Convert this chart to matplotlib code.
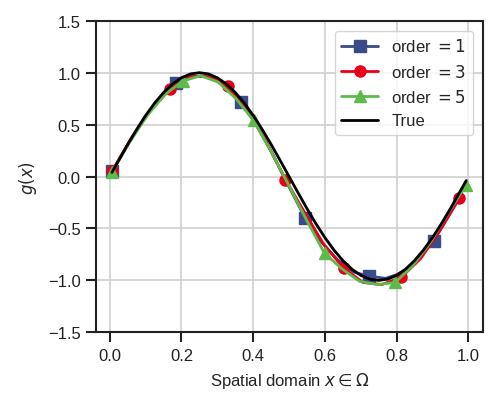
import matplotlib
matplotlib.use("Agg")
import matplotlib.pyplot as plt
import seaborn as sns

sns.set_style("ticks")
plt.rcParams['font.family'] = ['Liberation Sans', 'DejaVu Sans']
plt.rcParams['mathtext.fontset'] = 'dejavusans'

# ---- data ----
x1 = [0.006, 0.051, 0.096, 0.141, 0.185, 0.230, 0.275, 0.320, 0.365, 0.410, 0.455,
      0.500, 0.545, 0.590, 0.635, 0.680, 0.724, 0.769, 0.814, 0.859, 0.903, 0.948, 0.994]
y1 = [0.05, 0.31, 0.56, 0.76, 0.90, 0.97, 0.96, 0.88, 0.72, 0.49, 0.21,
      -0.10, -0.40, -0.63, -0.80, -0.92, -0.96, -0.98, -0.93, -0.80, -0.62, -0.36, -0.07]

x3 = [0.006, 0.060, 0.114, 0.168, 0.221, 0.275, 0.329, 0.383, 0.437, 0.490,
      0.544, 0.598, 0.652, 0.706, 0.759, 0.813, 0.867, 0.921, 0.975]
y3 = [0.05, 0.37, 0.64, 0.84, 0.96, 0.97, 0.87, 0.64, 0.33, -0.03,
      -0.35, -0.66, -0.88, -1.02, -1.04, -0.97, -0.79, -0.52, -0.21]

x5 = [0.006, 0.055, 0.105, 0.154, 0.204, 0.253, 0.302, 0.352, 0.401, 0.450, 0.500,
      0.549, 0.599, 0.648, 0.697, 0.747, 0.796, 0.845, 0.895, 0.944, 0.994]
y5 = [0.04, 0.33, 0.59, 0.79, 0.92, 0.97, 0.91, 0.75, 0.54, 0.24, -0.09,
      -0.42, -0.74, -0.89, -1.01, -1.04, -1.02, -0.86, -0.63, -0.35, -0.08]

xt = [0.006, 0.025, 0.05, 0.075, 0.1, 0.125, 0.15, 0.175, 0.2, 0.225, 0.25, 0.275, 0.3,
      0.325, 0.35, 0.375, 0.4, 0.425, 0.45, 0.475, 0.5, 0.525, 0.55, 0.575, 0.6,
      0.625, 0.65, 0.675, 0.7, 0.725, 0.75, 0.775, 0.8, 0.825, 0.85, 0.875, 0.9,
      0.925, 0.95, 0.975, 0.994]
yt = [0.04, 0.156, 0.309, 0.454, 0.588, 0.707, 0.809, 0.891, 0.951, 0.988, 1.0, 0.988, 0.951,
      0.891, 0.809, 0.707, 0.588, 0.454, 0.309, 0.156, 0.0, -0.156, -0.309, -0.454, -0.588,
      -0.707, -0.809, -0.891, -0.951, -0.988, -1.0, -0.988, -0.951, -0.891, -0.809, -0.707, -0.588,
      -0.454, -0.309, -0.156, -0.04]

labels = [r"order $=1$", r"order $=3$", r"order $=5$", "True"]
xticks = [0.0, 0.2, 0.4, 0.6, 0.8, 1.0]
yticks = [-1.5, -1.0, -0.5, 0.0, 0.5, 1.0, 1.5]

fig = plt.figure(figsize=(4.99, 4.10), dpi=100)
ax = fig.add_axes([0.192, 0.187, 0.776, 0.760])

ax.plot(x1, y1, color="#3A4A8A", lw=2, marker="s", ms=8, markevery=4, label=labels[0])
ax.plot(x3, y3, color="#E8001A", lw=2, marker="o", ms=8, markevery=3, label=labels[1])
ax.plot(x5, y5, color="#5DBB4A", lw=2, marker="^", ms=9, markevery=4, label=labels[2])
ax.plot(xt, yt, color="black", lw=2, label=labels[3])

ax.set_xlim(-0.039, 1.041)
ax.set_ylim(-1.5, 1.5)
ax.set_xticks(xticks)
ax.set_yticks(yticks)
ax.grid(True, color="#d0d0d0", lw=1.2)
for s in ax.spines.values():
    s.set_linewidth(1.5)
    s.set_color("#222222")
fs = 12
ax.tick_params(labelsize=fs, width=1.5, length=7, pad=4, colors="#222222")
ax.set_xlabel(r"Spatial domain $x \in \Omega$", fontsize=fs, color="#262626", labelpad=5)
ax.set_ylabel(r"$g(x)$", fontsize=fs, color="#262626", labelpad=6)
ax.legend(loc="upper right", fontsize=fs, handlelength=2.2, borderaxespad=0.6)

fig.savefig("out.png", dpi=100)
